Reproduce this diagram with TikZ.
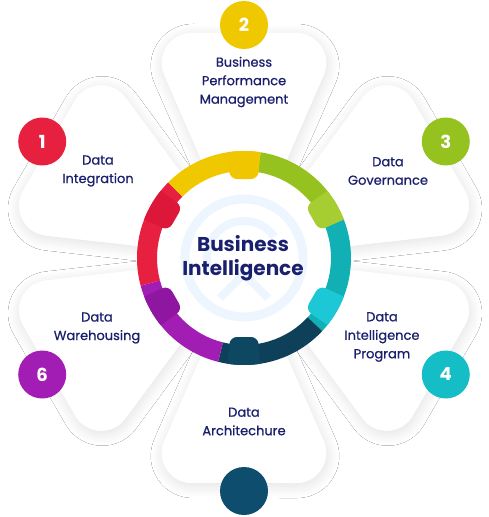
\documentclass[tikz,border=0pt]{standalone}
\usepackage{fontspec}
\setmainfont{Poppins}
\newfontfamily\labfont{Poppins}[FakeBold=0.7]
\usetikzlibrary{shadows.blur}
\definecolor{navytext}{HTML}{1A1F6E}
\definecolor{cred}{HTML}{E8203F}
\definecolor{credd}{HTML}{DC1739}
\definecolor{cyel}{HTML}{F0C800}
\definecolor{cyeld}{HTML}{F0C600}
\definecolor{cgrn}{HTML}{95C21F}
\definecolor{cgrnd}{HTML}{A6CD32}
\definecolor{cteal}{HTML}{10B0B5}
\definecolor{ctealb}{HTML}{1CC8D6}
\definecolor{cnavy}{HTML}{0E4059}
\definecolor{cnavyd}{HTML}{0D4762}
\definecolor{cpur}{HTML}{A21DB3}
\definecolor{cpurd}{HTML}{8F16A0}
\definecolor{wmblue}{HTML}{EDF6FE}
\definecolor{c5}{HTML}{0E4D6E}
\definecolor{c4}{HTML}{15BEC6}
\begin{document}
\begin{tikzpicture}[x=1pt,y=1pt,
  petalshadow/.style={fill=white,
    blur shadow={shadow xshift=1pt, shadow yshift=-3pt, shadow blur radius=12pt, shadow opacity=12, shadow blur steps=16}},
  petalbox/.style={fill=white},
  numc/.style={circle, minimum size=48pt, inner sep=0pt, text=white,
    font=\bfseries\fontsize{18}{18}\selectfont},
  lab/.style={align=center, text=navytext, font=\labfont\fontsize{13}{18.5}\selectfont},
  titlebox/.style={align=center, text=navytext, font=\bfseries\fontsize{20}{24}\selectfont},
  wm/.style={draw=wmblue}
]
\useasboundingbox (-244,-259) rectangle (244,258);
\fill[white] (-244,-259) rectangle (244,258);

\def\petalpath{(0,0) -- (79.7,183) arc[start angle=-23.5, end angle=90, radius=30]
  -- (-52.2,225) arc[start angle=90, end angle=203.5, radius=30] -- cycle}

% petal shadows
\foreach \a in {90,30,-30,-90,-150,150} {
  \begin{scope}[rotate=\a-90]
    \path[petalshadow] \petalpath;
  \end{scope}
}
% petals
\foreach \a in {90,30,-30,-90,-150,150} {
  \begin{scope}[rotate=\a-90]
    \path[petalbox] \petalpath;
  \end{scope}
}

% center disc
\fill[white] (0,0) circle (88);

% watermark
\draw[wm, line width=9pt] (0,0) circle (59);
\draw[wm, line width=8pt] (35:37) arc (35:205:37);
\draw[wm, line width=8pt, line join=round] (-24,-40) -- (0,-16) -- (24,-40);

% ring segments
\fill[cred]  (195:107) arc (195:135:107) -- (135:87) arc (135:195:87) -- cycle;
\fill[cyel]  (135:107) arc (135:81:107) -- (81:87) arc (81:135:87) -- cycle;
\fill[cgrn]  (81:107) arc (81:21:107) -- (21:87) arc (21:81:87) -- cycle;
\fill[cteal] (21:107) arc (21:-43:107) -- (-43:87) arc (-43:21:87) -- cycle;
\fill[cnavy] (-43:107) arc (-43:-104:107) -- (-104:87) arc (-104:-43:87) -- cycle;
\fill[cpur]  (256:107) arc (256:195:107) -- (195:87) arc (195:256:87) -- cycle;

% bumps
\begin{scope}
\clip (0,0) circle (107);
\foreach \a/\c in {150/credd, 90/cyeld, 30/cgrnd, -30/ctealb, -90/cnavyd, 210/cpurd} {
  \begin{scope}[rotate=\a-90]
    \fill[\c, rounded corners=7pt] (-17,112) -- (-14,79) -- (14,79) -- (17,112) -- cycle;
  \end{scope}
}
\end{scope}

% number circles
\node[numc, fill=cred]  (n1) at (150:233) {1};
\node[numc, fill=cyel]  (n2) at (90:233)  {2};
\node[numc, fill=cgrn]  (n3) at (30:233)  {3};
\node[numc, fill=c4]    (n4) at (-30:233) {4};
\node[numc, fill=c5]    (n5) at (-90:233) {};
\node[numc, fill=cpur]  (n6) at (210:233) {6};

% labels
\node[lab] (l1) at (-146,87)  {Data\\Integration};
\node[lab] (l2) at (0,176)    {Business\\Performance\\Management};
\node[lab] (l3) at (144,87)   {Data\\Governance};
\node[lab] (l4) at (138,-79)  {Data\\Intelligence\\Program};
\node[lab] (l5) at (0,-163.5) {Data\\Architechure};
\node[lab] (l6) at (-147,-70) {Data\\Warehousing};

\node[titlebox] (bi) at (-1,0) {Business\\Intelligence};
\end{tikzpicture}
\end{document}
